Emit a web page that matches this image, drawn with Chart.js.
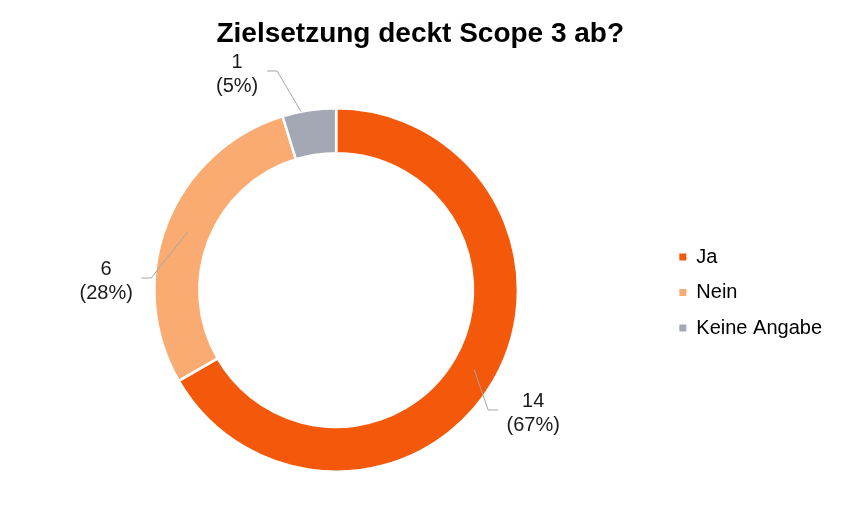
<!DOCTYPE html>
<html>
<head>
<meta charset="utf-8">
<script src="https://cdn.jsdelivr.net/npm/chart.js@4/dist/chart.umd.min.js"></script>
<style>
  html, body { margin: 0; padding: 0; background: #fff; }
  #wrap { width: 849px; height: 528px; }
</style>
</head>
<body>
<div id="wrap"><canvas id="chart1" width="849" height="528"></canvas></div>
<script>
var categories = ["Ja", "Nein", "Keine Angabe"];
var counts = [14, 6, 1];
var percentLabels = ["67%", "28%", "5%"];
var sliceColors = ["#F4580B", "#F9AB72", "#A4A8B5"];

// where each data label + leader line sits, relative to the doughnut centre (px)
var labelLayout = [
  { ring: 0.5, angleShift: 0, elbow: [152, 120], end: [162, 120], text: [197, 123] },
  { ring: 0.5, angleShift: 0, elbow: [-185, -12], end: [-195, -12], text: [-230, -8.5] },
  { ring: 1.0, angleShift: -0.045, elbow: [-59, -219], end: [-69, -219], text: [-99, -215.5] }
];

var leaderLabels = {
  id: "leaderLabels",
  afterDatasetsDraw: function (chart) {
    var ctx = chart.ctx;
    var meta = chart.getDatasetMeta(0);
    ctx.save();
    meta.data.forEach(function (arc, i) {
      var p = arc.getProps(["x", "y", "startAngle", "endAngle", "innerRadius", "outerRadius"], true);
      var lay = labelLayout[i];
      var a = (p.startAngle + p.endAngle) / 2 + lay.angleShift;
      var r = p.innerRadius + (p.outerRadius - p.innerRadius) * lay.ring;
      var sx = p.x + Math.cos(a) * r;
      var sy = p.y + Math.sin(a) * r;
      ctx.strokeStyle = "#A6A6A6";
      ctx.lineWidth = 1;
      ctx.beginPath();
      ctx.moveTo(sx, sy);
      ctx.lineTo(p.x + lay.elbow[0], p.y + lay.elbow[1]);
      ctx.lineTo(p.x + lay.end[0], p.y + lay.end[1]);
      ctx.stroke();
      ctx.fillStyle = "#1a1a1a";
      ctx.font = "20px 'Liberation Sans', Arial, sans-serif";
      ctx.textAlign = "center";
      ctx.textBaseline = "middle";
      var tx = p.x + lay.text[0];
      var ty = p.y + lay.text[1];
      ctx.fillText(String(counts[i]), tx, ty - 12);
      ctx.fillText("(" + percentLabels[i] + ")", tx, ty + 12);
    });
    ctx.restore();
  }
};

function drawGraph() {
  var ctx = document.getElementById("chart1").getContext("2d");
  var myChart = new Chart(ctx, {
    type: "doughnut",
    data: {
      labels: categories,
      datasets: [
        {
          data: counts,
          backgroundColor: sliceColors,
          borderColor: "#ffffff",
          borderWidth: 2.5,
          hoverOffset: 0
        }
      ]
    },
    options: {
      responsive: false,
      animation: false,
      cutout: "75.3%",
      layout: { padding: { left: 8.5, right: 17, top: 0, bottom: 55 } },
      plugins: {
        title: {
          display: true,
          text: "Zielsetzung deckt Scope 3 ab?",
          color: "#000000",
          font: { family: "'Liberation Sans', Arial, sans-serif", size: 28, weight: "bold" },
          padding: { top: 17, bottom: 56.4 }
        },
        legend: {
          position: "right",
          // empty title only pushes the items down to the doughnut's centre line
          title: {
            display: true,
            text: "",
            font: { size: 10 },
            padding: { top: 0, bottom: 100 }
          },
          labels: {
            boxWidth: 7,
            boxHeight: 7,
            padding: 15.5,
            color: "#000000",
            font: { family: "'Liberation Sans', Arial, sans-serif", size: 20 },
            generateLabels: function (chart) {
              var items = Chart.overrides.doughnut.plugins.legend.labels.generateLabels(chart);
              items.forEach(function (it) { it.lineWidth = 0; });
              return items;
            }
          }
        },
        tooltip: { enabled: false }
      }
    },
    plugins: [leaderLabels]
  });
}
window.onload = drawGraph;
</script>
</body>
</html>
